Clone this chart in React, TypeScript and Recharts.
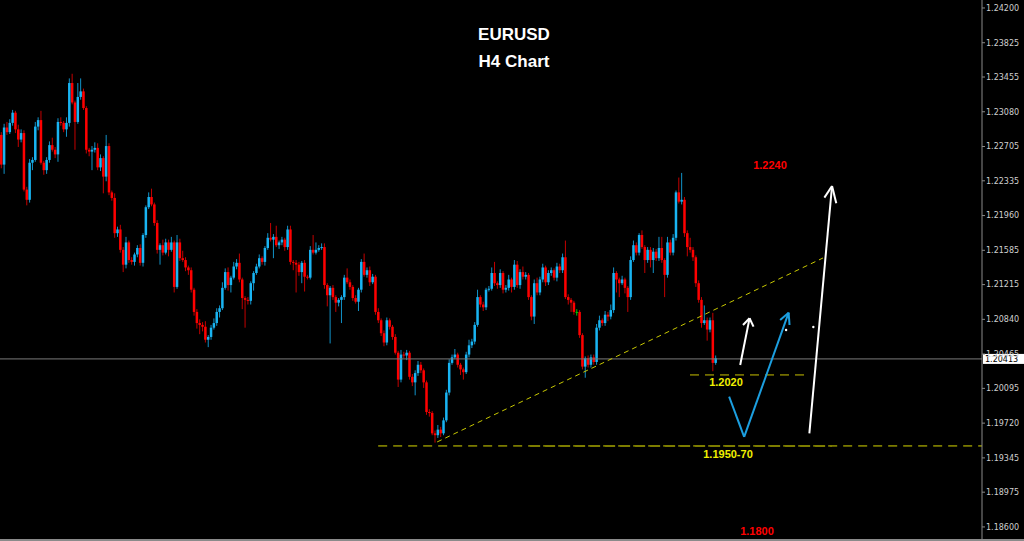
import React from 'react';
import { ComposedChart, Bar, XAxis, YAxis, ReferenceLine, ReferenceDot } from 'recharts';

// EURUSD H4 closes, oldest first (open of each bar = previous close)
const FIRST_OPEN = 1.2283;
const closes = [
  1.2251, 1.2291, 1.2286, 1.2296, 1.2307, 1.2289, 1.2278, 1.2285, 1.2224, 1.2213,
  1.2253, 1.2256, 1.2292, 1.2299, 1.2253, 1.2245, 1.2256, 1.2272, 1.2267, 1.2262,
  1.2297, 1.2296, 1.2289, 1.2296, 1.2339, 1.2318, 1.2297, 1.2324, 1.2330, 1.2312,
  1.2267, 1.2265, 1.2267, 1.2269, 1.2248, 1.2258, 1.2238, 1.2271, 1.2221, 1.2215,
  1.2177, 1.2181, 1.2159, 1.2143, 1.2167, 1.2148, 1.2146, 1.2154, 1.2161, 1.2145,
  1.2175, 1.2205, 1.2216, 1.2208, 1.2188, 1.2159, 1.2164, 1.2156, 1.2167, 1.2159,
  1.2167, 1.2119, 1.2167, 1.2150, 1.2148, 1.2140, 1.2137, 1.2116, 1.2092, 1.2080,
  1.2078, 1.2076, 1.2062, 1.2065, 1.2075, 1.2080, 1.2092, 1.2096, 1.2118, 1.2135,
  1.2121, 1.2129, 1.2141, 1.2145, 1.2127, 1.2107, 1.2105, 1.2104, 1.2123, 1.2134,
  1.2141, 1.2150, 1.2146, 1.2161, 1.2172, 1.2170, 1.2173, 1.2164, 1.2167, 1.2170,
  1.2162, 1.2181, 1.2146, 1.2145, 1.2143, 1.2135, 1.2145, 1.2130, 1.2129, 1.2159,
  1.2156, 1.2159, 1.2161, 1.2162, 1.2121, 1.2110, 1.2118, 1.2108, 1.2102, 1.2105,
  1.2108, 1.2129, 1.2124, 1.2119, 1.2107, 1.2103, 1.2116, 1.2146, 1.2132, 1.2137,
  1.2124, 1.2130, 1.2092, 1.2083, 1.2069, 1.2059, 1.2083, 1.2076, 1.2065, 1.2048,
  1.2019, 1.2046, 1.2045, 1.2048, 1.2022, 1.2016, 1.2026, 1.2035, 1.2029, 1.2016,
  1.1984, 1.1983, 1.1961, 1.1959, 1.1965, 1.1961, 1.1975, 1.2005, 1.2037, 1.2043,
  1.2046, 1.2035, 1.2030, 1.2027, 1.2046, 1.2056, 1.2060, 1.2078, 1.2108, 1.2100,
  1.2097, 1.2116, 1.2117, 1.2134, 1.2123, 1.2121, 1.2134, 1.2116, 1.2118, 1.2127,
  1.2119, 1.2143, 1.2121, 1.2135, 1.2130, 1.2132, 1.2108, 1.2087, 1.2123, 1.2113,
  1.2127, 1.2140, 1.2124, 1.2134, 1.2137, 1.2129, 1.2141, 1.2137, 1.2151, 1.2108,
  1.2105, 1.2102, 1.2092, 1.2092, 1.2067, 1.2033, 1.2042, 1.2035, 1.2043, 1.2038,
  1.2075, 1.2083, 1.2080, 1.2089, 1.2087, 1.2094, 1.2134, 1.2127, 1.2123, 1.2127,
  1.2118, 1.2108, 1.2148, 1.2164, 1.2156, 1.2175, 1.2162, 1.2148, 1.2159, 1.2148,
  1.2157, 1.2150, 1.2161, 1.2148, 1.2132, 1.2167, 1.2156, 1.2172, 1.2221, 1.2211,
  1.2213, 1.2177, 1.2162, 1.2159, 1.2151, 1.2123, 1.2105, 1.2080, 1.2083, 1.2073,
  1.2083, 1.2037, 1.2042,
];

// wick lengths in pips above / below the body
const upperWicks = [
  3, 4, 6, 4, 3, 2, 5, 4, 3, 3, 4, 3, 5, 3, 10, 2, 3, 4, 8, 3,
  4, 5, 2, 6, 5, 10, 2, 15, 14, 3, 2, 2, 4, 6, 5, 4, 2, 12, 3, 2,
  5, 3, 5, 3, 6, 2, 3, 2, 3, 4, 2, 2, 5, 9, 2, 3, 2, 6, 4, 3,
  6, 2, 8, 4, 8, 3, 2, 3, 2, 3, 4, 3, 6, 2, 3, 5, 4, 3, 6, 4,
  5, 2, 5, 4, 10, 2, 2, 3, 2, 2, 3, 4, 2, 2, 5, 16, 3, 12, 2, 3,
  2, 4, 4, 2, 3, 3, 2, 3, 2, 4, 16, 8, 3, 4, 4, 2, 2, 3, 2, 2,
  2, 3, 10, 3, 2, 3, 2, 3, 9, 3, 4, 3, 2, 4, 2, 3, 3, 2, 2, 3,
  2, 5, 3, 3, 2, 3, 3, 4, 3, 2, 2, 3, 2, 3, 5, 3, 3, 3, 4, 3,
  6, 2, 2, 2, 3, 6, 3, 3, 8, 2, 3, 2, 3, 6, 12, 2, 4, 2, 3, 5,
  2, 5, 4, 3, 6, 3, 2, 2, 4, 6, 3, 4, 2, 3, 3, 2, 4, 3, 4, 18,
  3, 2, 2, 3, 2, 2, 2, 3, 3, 3, 4, 5, 2, 4, 3, 6, 6, 2, 2, 4,
  2, 2, 4, 5, 3, 2, 5, 2, 3, 3, 4, 3, 12, 12, 2, 6, 3, 4, 2, 16,
  29, 3, 3, 10, 3, 2, 3, 3, 16, 3, 3, 8, 3,
];
const lowerWicks = [
  4, 10, 3, 2, 3, 4, 8, 3, 2, 6, 3, 8, 2, 4, 2, 5, 4, 3, 2, 4,
  8, 3, 3, 8, 4, 2, 30, 2, 3, 2, 4, 5, 20, 3, 3, 4, 18, 5, 3, 3,
  5, 4, 3, 8, 4, 3, 3, 4, 3, 3, 4, 3, 2, 2, 3, 4, 16, 3, 2, 7,
  2, 6, 2, 3, 2, 4, 5, 3, 4, 6, 10, 5, 3, 8, 3, 2, 3, 6, 2, 2,
  6, 8, 2, 3, 3, 12, 30, 4, 4, 8, 2, 2, 3, 4, 2, 2, 20, 2, 4, 3,
  4, 3, 3, 8, 30, 4, 12, 16, 2, 2, 2, 2, 2, 2, 4, 12, 52, 3, 10, 4,
  25, 3, 2, 3, 3, 2, 10, 3, 2, 3, 4, 2, 3, 3, 3, 4, 3, 3, 3, 2,
  8, 3, 3, 5, 3, 4, 14, 3, 3, 6, 3, 4, 2, 8, 3, 4, 2, 2, 3, 2,
  2, 3, 6, 8, 2, 3, 3, 3, 2, 3, 4, 3, 2, 2, 3, 4, 3, 4, 3, 3,
  6, 3, 3, 4, 3, 3, 3, 4, 8, 3, 3, 3, 4, 3, 3, 3, 4, 3, 3, 2,
  5, 10, 3, 4, 3, 3, 12, 3, 3, 3, 3, 3, 3, 3, 5, 3, 3, 14, 15, 2,
  6, 16, 3, 2, 3, 3, 2, 14, 3, 8, 14, 3, 3, 3, 24, 3, 3, 3, 3, 2,
  3, 4, 10, 3, 4, 4, 3, 5, 2, 12, 3, 9, 2,
];

const yTicks = [
  1.242, 1.23825, 1.23455, 1.2308, 1.22705, 1.22335, 1.2196, 1.21585,
  1.21215, 1.2084, 1.20465, 1.20095, 1.1972, 1.19345, 1.18975, 1.186,
];
const LAST_PRICE = 1.20413;

// drawn levels and arrows, in (bar index, price)
const trendLine = [{ x: 153.7, y: 1.19517 }, { x: 289.8, y: 1.21502 }];
const supportLine = [{ x: 132.9, y: 1.19474 }, { x: 345.9, y: 1.19474 }];
const supportZone = [{ x: 186.5, y: 1.19474 }, { x: 293.0, y: 1.19474 }];
const level1202 = [{ x: 242.9, y: 1.2024 }, { x: 283.5, y: 1.2024 }];
const whiteShort = [
  [{ x: 260.6, y: 1.20348 }, { x: 263.9, y: 1.20852 }],
  [{ x: 263.9, y: 1.20852 }, { x: 261.6, y: 1.20779 }],
  [{ x: 263.9, y: 1.20852 }, { x: 265.3, y: 1.20761 }],
];
const blueV = [
  [{ x: 256.7, y: 1.20006 }, { x: 262.0, y: 1.19571 }],
  [{ x: 262.0, y: 1.19571 }, { x: 277.7, y: 1.20912 }],
  [{ x: 277.7, y: 1.20912 }, { x: 274.7, y: 1.20833 }],
  [{ x: 277.7, y: 1.20912 }, { x: 278.0, y: 1.20779 }],
];
const whiteLong = [
  [{ x: 285.0, y: 1.1961 }, { x: 293.0, y: 1.22279 }],
  [{ x: 293.0, y: 1.22279 }, { x: 290.3, y: 1.22153 }],
  [{ x: 293.0, y: 1.22279 }, { x: 294.5, y: 1.22092 }],
];
const whiteDots = [{ x: 276.8, y: 1.20725 }, { x: 286.4, y: 1.20758 }];

const PIP = 0.0001;
const BLUE = '#19b4f2';
const RED = '#ff0000';
const GREEN = '#00c800';

const candles = closes.map((c, i) => {
  const o = i === 0 ? FIRST_OPEN : closes[i - 1];
  const hi = Math.max(o, c) + (upperWicks[i] ?? 2) * PIP;
  const lo = Math.min(o, c) - (lowerWicks[i] ?? 2) * PIP;
  return { i, o, c, hi, lo };
});

const Candle = (props: any) => {
  const { x, y, width, height, payload } = props;
  if (!payload || x == null) return null;
  const { o, c, hi, lo } = payload;
  const top = height < 0 ? y + height : y;
  const h = Math.abs(height);
  const per = hi === lo ? 0 : h / (hi - lo);
  const cx = x + width / 2;
  const bTop = top + (hi - Math.max(o, c)) * per;
  const bBot = top + (hi - Math.min(o, c)) * per;
  const color = c > o ? BLUE : c < o ? RED : GREEN;
  const wick = c > o ? '#1192c8' : c < o ? '#c40000' : GREEN;
  return (
    <g>
      <line x1={cx} x2={cx} y1={top} y2={top + h} stroke={wick} strokeWidth={1} />
      <rect x={cx - 1.25} y={bTop} width={2.5} height={Math.max(1, bBot - bTop)} fill={color} />
    </g>
  );
};

const PriceTag = (props: any) => {
  const vb = props.viewBox;
  if (!vb) return null;
  const x0 = vb.x + vb.width;
  return (
    <g>
      <rect x={x0 + 1} y={vb.y - 5} width={41} height={10} fill="#ffffff" />
      <text x={x0 + 3} y={vb.y + 3} fontSize={8} fontFamily="DejaVu Sans" fill="#000">
        {LAST_PRICE.toFixed(5)}
      </text>
    </g>
  );
};

const textBase: React.CSSProperties = {
  position: 'absolute',
  fontFamily: '"Liberation Sans", Arial, sans-serif',
  fontWeight: 'bold',
  textAlign: 'center',
  whiteSpace: 'nowrap',
};

const note = (text: string, color: string, cx: number, top: number) => (
  <div style={{ ...textBase, left: cx - 50, width: 100, top, fontSize: 11, lineHeight: '11px', color }}>
    {text}
  </div>
);

export default function App() {
  return (
    <div style={{ position: 'absolute', left: 0, top: 0, width: 1024, height: 541, background: '#000', overflow: 'hidden' }}>
      <ComposedChart width={1024} height={541} data={candles} margin={{ top: 0, right: 0, bottom: 1, left: 0 }}>
        <XAxis type="number" dataKey="i" domain={[-0.5, 345.9]} allowDataOverflow hide height={0} />
        <YAxis
          orientation="right"
          width={42}
          domain={[1.18459, 1.24286]}
          allowDataOverflow
          ticks={yTicks}
          interval={0}
          axisLine={{ stroke: '#8a8a8a' }}
          tickLine={{ stroke: '#8a8a8a' }}
          tickSize={3}
          tickMargin={1}
          tick={{ fill: '#cfcfcf', fontSize: 8, fontFamily: 'DejaVu Sans' }}
          tickFormatter={(v: number) => v.toFixed(5)}
        />
        <ReferenceLine y={LAST_PRICE} stroke="#7a7a7a" strokeWidth={1} label={(p: any) => <PriceTag {...p} />} />
        <Bar dataKey={(d: any) => [d.lo, d.hi]} barSize={3} shape={(p: any) => <Candle {...p} />} isAnimationActive={false} />
        <ReferenceLine segment={supportLine} stroke="#d8d800" strokeDasharray="9 6" strokeWidth={1} ifOverflow="visible" />
        <ReferenceLine segment={supportZone} stroke="#7d7d00" strokeDasharray="10 5" strokeWidth={2} ifOverflow="visible" />
        <ReferenceLine segment={trendLine} stroke="#c8c800" strokeDasharray="5 4" strokeWidth={1} ifOverflow="visible" />
        <ReferenceLine segment={level1202} stroke="#c8c000" strokeDasharray="9 6" strokeWidth={1} ifOverflow="visible" />
        {whiteShort.map((s, k) => (
          <ReferenceLine key={`ws${k}`} segment={s} stroke="#ffffff" strokeWidth={2} ifOverflow="visible" />
        ))}
        {blueV.map((s, k) => (
          <ReferenceLine key={`bv${k}`} segment={s} stroke="#1c9fe0" strokeWidth={2} ifOverflow="visible" />
        ))}
        {whiteLong.map((s, k) => (
          <ReferenceLine key={`wl${k}`} segment={s} stroke="#ffffff" strokeWidth={2} ifOverflow="visible" />
        ))}
        {whiteDots.map((d, k) => (
          <ReferenceDot key={`wd${k}`} x={d.x} y={d.y} r={1.2} fill="#ffffff" stroke="none" ifOverflow="visible" />
        ))}
      </ComposedChart>

      <div style={{ position: 'absolute', left: 0, top: 539, width: 1024, height: 2, background: '#8a8a8a' }} />

      <div style={{ ...textBase, left: 414, width: 200, top: 26, fontSize: 17, lineHeight: '17px', color: '#fff' }}>EURUSD</div>
      <div style={{ ...textBase, left: 414, width: 200, top: 53, fontSize: 17, lineHeight: '17px', color: '#fff' }}>H4 Chart</div>

      {note('1.2240', '#ff0000', 770, 160)}
      {note('1.2020', '#f0f000', 726, 377)}
      {note('1.1950-70', '#f0f000', 728, 449)}
      {note('1.1800', '#ff0000', 757, 526)}
    </div>
  );
}
